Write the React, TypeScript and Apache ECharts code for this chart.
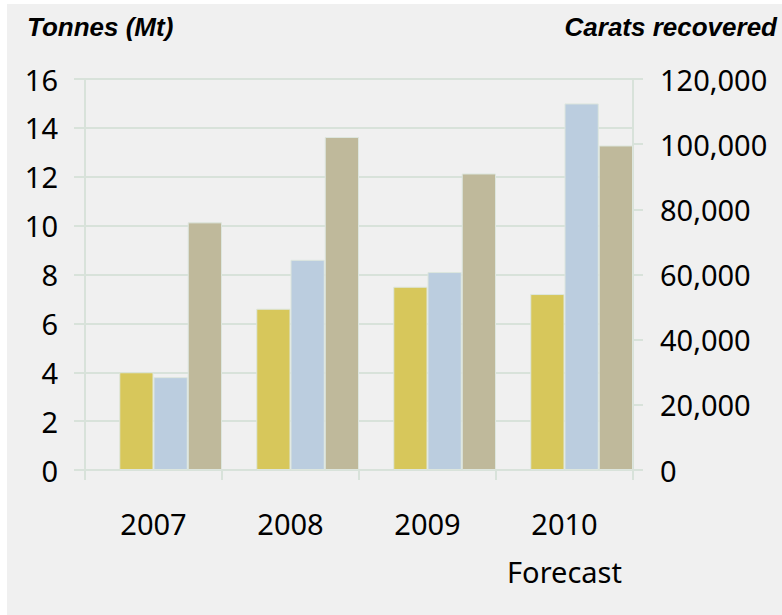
import React, { useEffect, useRef } from "react";
import * as echarts from "echarts";

// Years along the bottom axis; the last one is a forecast
const categories = ["2007", "2008", "2009", "2010\nForecast"];

// Left axis (Mt)
const tonnesYellow = [4.0, 6.6, 7.5, 7.2];
const tonnesBlue = [3.8, 8.6, 8.1, 15.0];

// Right axis (carats)
const caratsRecovered = [76000, 102200, 91000, 99600];

// Axis ranges
const leftMax = 16;
const leftStep = 2;
const rightMax = 120000;
const rightStep = 20000;

const GRID_COLOR = "#d8e2da";
const LABEL_FONT = "'Noto Sans', 'DejaVu Sans', sans-serif";
const TITLE_FONT = "'Liberation Sans', Arial, sans-serif";

const fmtThousands = (v: number) =>
  String(Math.round(v)).replace(/\B(?=(\d{3})+(?!\d))/g, ",");

export default function App() {
  const ref = useRef<HTMLDivElement>(null);

  useEffect(() => {
    if (!ref.current) return;
    const chart = echarts.init(ref.current, undefined, { renderer: "svg" });

    const barStyle = (color: string) => ({
      color,
      borderColor: "#dde6de",
      borderWidth: 1,
    });

    chart.setOption({
      animation: false,
      backgroundColor: "transparent",
      textStyle: { fontFamily: LABEL_FONT },
      grid: { left: 78, top: 75, width: 548, height: 391, containLabel: false },
      graphic: [
        {
          type: "text",
          left: 20,
          top: 10,
          style: {
            text: "Tonnes (Mt)",
            font: `italic bold 26px ${TITLE_FONT}`,
            fill: "#000",
          },
        },
        {
          type: "text",
          right: 5,
          top: 10,
          style: {
            text: "Carats recovered",
            font: `italic bold 26px ${TITLE_FONT}`,
            fill: "#000",
          },
        },
      ],
      xAxis: {
        type: "category",
        data: categories,
        boundaryGap: true,
        axisLine: { show: true, lineStyle: { color: GRID_COLOR, width: 2 } },
        axisTick: {
          show: true,
          interval: 0,
          length: 10,
          lineStyle: { color: GRID_COLOR, width: 2 },
        },
        axisLabel: {
          color: "#000",
          fontSize: 29,
          lineHeight: 48,
          margin: 29,
          interval: 0,
          fontFamily: LABEL_FONT,
        },
      },
      yAxis: [
        {
          type: "value",
          min: 0,
          max: leftMax,
          interval: leftStep,
          position: "left",
          axisLine: { show: true, lineStyle: { color: GRID_COLOR, width: 2 } },
          axisTick: { show: true, length: 11, lineStyle: { color: GRID_COLOR, width: 2 } },
          splitLine: { show: true, lineStyle: { color: GRID_COLOR, width: 2 } },
          axisLabel: {
            color: "#000",
            fontSize: 29,
            margin: 27,
            fontFamily: LABEL_FONT,
          },
        },
        {
          type: "value",
          min: 0,
          max: rightMax,
          interval: rightStep,
          position: "right",
          axisLine: { show: true, lineStyle: { color: GRID_COLOR, width: 2 } },
          axisTick: { show: true, length: 10, lineStyle: { color: GRID_COLOR, width: 2 } },
          splitLine: { show: false },
          axisLabel: {
            color: "#000",
            fontSize: 29,
            margin: 27,
            fontFamily: LABEL_FONT,
            formatter: (v: number) => fmtThousands(v),
          },
        },
      ],
      series: [
        {
          // empty leading slot so each group sits at the right of its year
          name: "spacer",
          type: "bar",
          yAxisIndex: 0,
          data: categories.map(() => null),
          barGap: "0%",
          barCategoryGap: "0%",
          silent: true,
        },
        {
          name: "Tonnes A",
          type: "bar",
          yAxisIndex: 0,
          data: tonnesYellow,
          itemStyle: barStyle("#d7c75b"),
          barGap: "0%",
          barCategoryGap: "0%",
        },
        {
          name: "Tonnes B",
          type: "bar",
          yAxisIndex: 0,
          data: tonnesBlue,
          itemStyle: barStyle("#bbcddf"),
          barGap: "0%",
          barCategoryGap: "0%",
        },
        {
          name: "Carats recovered",
          type: "bar",
          yAxisIndex: 1,
          data: caratsRecovered,
          itemStyle: barStyle("#bfb99b"),
          barGap: "0%",
          barCategoryGap: "0%",
        },
      ],
    });

    return () => chart.dispose();
  }, []);

  return (
    <div
      style={{
        position: "fixed",
        left: 0,
        top: 0,
        width: 782,
        height: 615,
        background: "#ffffff",
      }}
    >
      <div
        ref={ref}
        style={{
          position: "absolute",
          left: 7,
          top: 4,
          width: 775,
          height: 611,
          background: "#f0f0f0",
        }}
      />
    </div>
  );
}
